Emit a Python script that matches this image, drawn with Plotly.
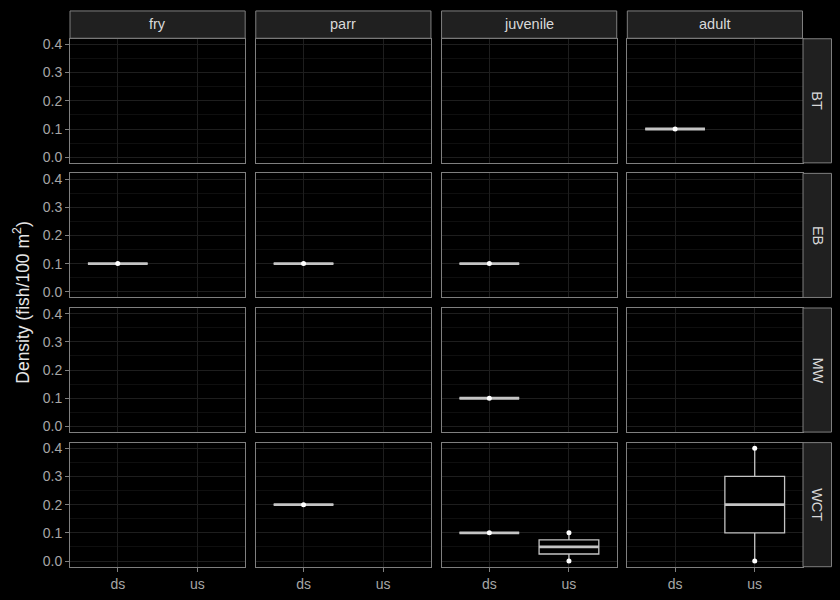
import numpy as np
import plotly.graph_objects as go

# ---- data ----
species = ["BT", "EB", "MW", "WCT"]
stages = ["fry", "parr", "juvenile", "adult"]
sites = ["ds", "us"]
y_ticks = [0.0, 0.1, 0.2, 0.3, 0.4]
y_minor = [0.05, 0.15, 0.25, 0.35]

rec_species = ["BT", "EB", "EB", "EB", "MW", "WCT", "WCT", "WCT", "WCT", "WCT", "WCT"]
rec_stage = ["adult", "fry", "parr", "juvenile", "juvenile", "parr", "juvenile",
             "juvenile", "juvenile", "adult", "adult"]
rec_site = ["ds", "ds", "ds", "ds", "ds", "ds", "ds", "us", "us", "us", "us"]
rec_density = [0.1, 0.1, 0.1, 0.1, 0.1, 0.2, 0.1, 0.0, 0.1, 0.0, 0.4]

# ---- style / layout ----
W, H = 840, 600
BG = "#000000"
BORDER = "#7f7f7f"
GRID_MAJOR = "#1e1e1e"
GRID_MINOR = "#0f0f0f"
STRIP_BG = "#202020"
AXIS_TXT = "#a6a6a6"
STRIP_TXT = "#d9d9d9"
BOX_LINE = "#c4c4c4"
FONT = "Liberation Sans, Arial, sans-serif"

x0, x1 = 70, 802.5
y0, y1 = 37, 568.5
gap = 10.6
pw = (x1 - x0 - 3 * gap) / 4
ph = (y1 - y0 - 3 * gap) / 4

def px_x(v):
    return v / W

def px_y(v):
    return 1 - v / H

fig = go.Figure()
layout = dict(
    width=W, height=H,
    margin=dict(l=0, r=0, t=0, b=0),
    paper_bgcolor=BG, plot_bgcolor=BG,
    showlegend=False,
    font=dict(family=FONT, color=AXIS_TXT, size=14),
    shapes=[], annotations=[],
)

box_w = 0.75
for r, sp in enumerate(species):
    for c, st in enumerate(stages):
        k = r * 4 + c + 1
        sfx = "" if k == 1 else str(k)
        left = x0 + c * (pw + gap)
        top = y0 + r * (ph + gap)
        xd = [px_x(left), px_x(left + pw)]
        yd = [px_y(top + ph), px_y(top)]
        bottom_row = r == len(species) - 1
        left_col = c == 0
        layout["xaxis" + sfx] = dict(
            domain=xd, anchor="y" + sfx, range=[0.4, 2.6],
            tickvals=[1, 2], ticktext=sites,
            showgrid=True, gridcolor=GRID_MAJOR, gridwidth=1.1,
            zeroline=False, showline=True, mirror=True,
            linecolor=BORDER, linewidth=1,
            ticks="outside" if bottom_row else "", ticklen=4, tickcolor=BORDER,
            showticklabels=bottom_row,
            tickfont=dict(size=14, color=AXIS_TXT, family=FONT),
        )
        layout["yaxis" + sfx] = dict(
            domain=yd, anchor="x" + sfx, range=[-0.02, 0.42],
            tickvals=y_ticks, ticktext=[f"{v:.1f}" for v in y_ticks],
            showgrid=True, gridcolor=GRID_MAJOR, gridwidth=1.1,
            minor=dict(tickvals=y_minor, showgrid=True, gridcolor=GRID_MINOR,
                       gridwidth=0.6, ticks=""),
            zeroline=False, showline=True, mirror=True,
            linecolor=BORDER, linewidth=1,
            ticks="outside" if left_col else "", ticklen=4, tickcolor=BORDER,
            showticklabels=left_col,
            tickfont=dict(size=14, color=AXIS_TXT, family=FONT),
        )
        # placeholder so that every panel is drawn
        fig.add_trace(go.Scatter(x=[None], y=[None], mode="markers",
                                 xaxis="x" + sfx, yaxis="y" + sfx, hoverinfo="skip"))

        for si, site in enumerate(sites):
            vals = [d for s_, g_, t_, d in zip(rec_species, rec_stage, rec_site, rec_density)
                    if s_ == sp and g_ == st and t_ == site]
            if not vals:
                continue
            arr = np.array(vals)
            q1, med, q3 = np.percentile(arr, [25, 50, 75])
            iqr = q3 - q1
            lo = arr[arr >= q1 - 1.5 * iqr].min()
            hi = arr[arr <= q3 + 1.5 * iqr].max()
            pos = si + 1
            fig.add_trace(go.Box(
                x=[pos], q1=[q1], median=[med], q3=[q3],
                lowerfence=[lo], upperfence=[hi], width=box_w,
                line=dict(color=BOX_LINE, width=1.3), fillcolor=BG,
                whiskerwidth=0,
                xaxis="x" + sfx, yaxis="y" + sfx, hoverinfo="skip",
            ))
            fig.add_trace(go.Scatter(
                x=[pos - box_w / 2, pos + box_w / 2], y=[med, med], mode="lines",
                line=dict(color=BOX_LINE, width=2.8),
                xaxis="x" + sfx, yaxis="y" + sfx, hoverinfo="skip",
            ))
            fig.add_trace(go.Scatter(
                x=[pos] * len(vals), y=vals, mode="markers",
                marker=dict(color="#ffffff", size=5),
                xaxis="x" + sfx, yaxis="y" + sfx, hoverinfo="skip",
            ))

# top strips
for c, st in enumerate(stages):
    left = x0 + c * (pw + gap)
    layout["shapes"].append(dict(
        type="rect", xref="paper", yref="paper",
        x0=px_x(left), x1=px_x(left + pw), y0=px_y(36.5), y1=px_y(9),
        fillcolor=STRIP_BG, line=dict(color=BORDER, width=1), layer="above"))
    layout["annotations"].append(dict(
        x=px_x(left + pw / 2), y=px_y(22.5), xref="paper", yref="paper",
        text=st, showarrow=False, xanchor="center", yanchor="middle",
        font=dict(size=14.5, color=STRIP_TXT, family=FONT)))

# right strips
for r, sp in enumerate(species):
    top = y0 + r * (ph + gap)
    layout["shapes"].append(dict(
        type="rect", xref="paper", yref="paper",
        x0=px_x(803), x1=px_x(831.5), y0=px_y(top + ph), y1=px_y(top),
        fillcolor=STRIP_BG, line=dict(color=BORDER, width=1), layer="above"))
    layout["annotations"].append(dict(
        x=px_x(817.5), y=px_y(top + ph / 2), xref="paper", yref="paper",
        text=sp, showarrow=False, textangle=90, xanchor="center", yanchor="middle",
        font=dict(size=14.5, color=STRIP_TXT, family=FONT)))

# y-axis title
layout["annotations"].append(dict(
    x=px_x(21), y=px_y((y0 + y1) / 2), xref="paper", yref="paper",
    text="Density (fish/100 m<sup>2</sup>)", showarrow=False, textangle=-90,
    xanchor="center", yanchor="middle",
    font=dict(size=17.5, color="#e6e6e6", family=FONT)))

fig.update_layout(**layout)
fig.write_html("out.html")
